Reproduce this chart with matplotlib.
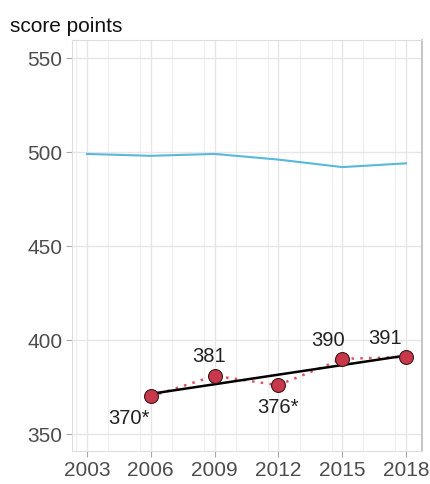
import matplotlib.pyplot as plt
from matplotlib.ticker import MultipleLocator

plt.rcParams['font.family'] = ['Liberation Sans', 'DejaVu Sans']

# Datos
anios = [2003, 2006, 2009, 2012, 2015, 2018]
promedio_ocde = [499, 498, 499, 496, 492, 494]

anios_pais = [2006, 2009, 2012, 2015, 2018]
puntaje_pais = [370, 381, 376, 390, 391]
etiquetas = ['370*', '381', '376*', '390', '391']

anios_tendencia = [2006, 2018]
tendencia = [371.4, 391.8]

fig = plt.figure(figsize=(4.3, 4.84), dpi=100)
ax = fig.add_axes([72 / 430, 1 - 451 / 484, 350 / 430, 411 / 484])

ax.plot(anios, promedio_ocde, color='#5ab8d8', lw=1.5, zorder=3)
ax.plot(anios_pais, puntaje_pais, color='#e05060', lw=1.8, ls=(0, (1, 2.5)), zorder=3)
ax.plot(anios_tendencia, tendencia, color='black', lw=1.8, zorder=4)
ax.plot(anios_pais, puntaje_pais, 'o', ms=10, mfc='#c8384a', mec='#3a1a1a', mew=0.8, zorder=5)

# Posición de etiquetas (desplazamiento en puntos)
desplazamientos = [(-16, -16), (-4, 14), (0, -16), (-10, 13), (-15, 13)]
for x, y, txt, (dx, dy) in zip(anios_pais, puntaje_pais, etiquetas, desplazamientos):
    ax.annotate(txt, (x, y), xytext=(dx, dy), textcoords='offset points',
                ha='center', va='center', fontsize=14.5, color='#222222')

ax.set_xlim(2002.3, 2018.75)
ax.set_ylim(341, 559.6)
ax.set_xticks(anios)
ax.set_yticks([350, 400, 450, 500, 550])
ax.xaxis.set_minor_locator(MultipleLocator(1.5))

ax.grid(True, which='major', color='#e6e6e6', lw=1)
ax.grid(True, which='minor', axis='x', color='#eeeeee', lw=0.8)
ax.set_axisbelow(True)
ax.tick_params(which='minor', length=0)
ax.tick_params(which='major', length=4, color='#aaaaaa', labelsize=15, labelcolor='#4d4d4d', pad=3)
for lado in ['left', 'bottom', 'top']:
    ax.spines[lado].set_color('#dddddd')
ax.spines['right'].set_color('#bbbbbb')
ax.spines['right'].set_linewidth(1.2)

fig.text(10 / 430, 1 - 27 / 484, 'score points', fontsize=15, color='#111111', va='center', ha='left')

plt.savefig('out.png', dpi=100)
